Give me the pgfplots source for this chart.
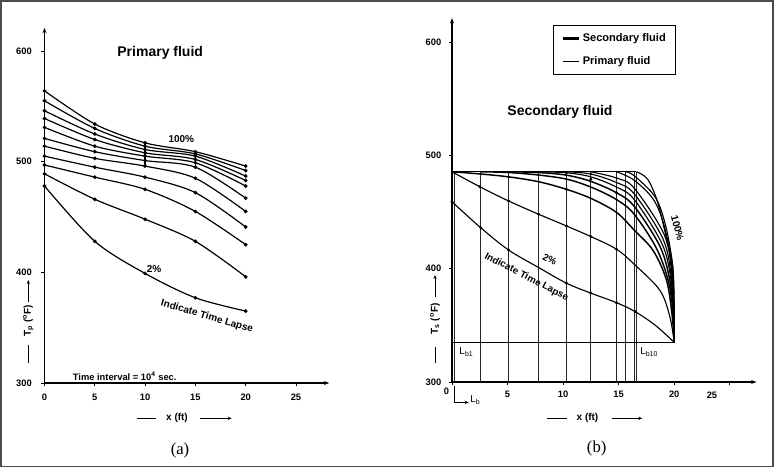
\documentclass[border=0pt]{standalone}
\usepackage{pgfplots}
\pgfplotsset{compat=1.18}
\usetikzlibrary{arrows.meta}
\usepackage{fontspec}
\setmainfont{Liberation Sans}
\newfontfamily\capfont{Liberation Serif}
\begin{document}
\begin{tikzpicture}
\path[use as bounding box] (0,0) rectangle (582pt,351pt);
\draw[line width=1.2pt, black!70] (0.6pt,1.0pt) rectangle (579.8pt,350.2pt);
\pgfplotsset{
  panel/.style={
    anchor=south west, axis lines=left, enlargelimits=false, clip=false,
    axis line style={line width=0.9pt, -{Stealth[length=4pt,width=3pt]}},
    tick align=outside, major tick length=2.5pt,
    tick style={line width=0.6pt, black},
    ticklabel style={font=\bfseries\fontsize{7}{8}\selectfont},
    /pgf/number format/assume math mode=true,
    ytick={300,400,500,600},
  },
  acurve/.style={black, line width=0.9pt, smooth, mark=*, mark size=0.9pt},
  bcurve/.style={black, line width=0.85pt, smooth, tension=0.55},
  vline/.style={black!85, line width=0.6pt},
}
% ---------------- panel (a) ----------------
\begin{axis}[panel,
  at={(33.375pt,63.75pt)},
  x=7.545pt, y=0.830pt,
  xmin=0, xmax=28.3, ymin=300, ymax=620.8,
  xtick={0,5,10,15,20,25},
  yticklabel style={xshift=-3.5pt},
  xticklabel style={yshift=-2pt},
]
\addplot[acurve] coordinates {(0,564)(5,534)(10,517)(15,509)(20,496)};
\addplot[acurve] coordinates {(0,555)(5,530)(10,514)(15,507)(20,492)};
\addplot[acurve] coordinates {(0,546)(5,525)(10,511)(15,505)(20,487)};
\addplot[acurve] coordinates {(0,539)(5,520)(10,508)(15,502)(20,483)};
\addplot[acurve] coordinates {(0,531)(5,514)(10,505)(15,499)(20,478)};
\addplot[acurve] coordinates {(0,521)(5,509)(10,501)(15,495)(20,467)};
\addplot[acurve] coordinates {(0,514)(5,503)(10,496)(15,485)(20,455)};
\addplot[acurve] coordinates {(0,505)(5,495)(10,486)(15,472)(20,441)};
\addplot[acurve] coordinates {(0,497)(5,486)(10,475)(15,455)(20,425)};
\addplot[acurve] coordinates {(0,489)(5,466)(10,448)(15,428)(20,396)};
\addplot[acurve] coordinates {(0,478)(5,428)(10,399)(15,377)(20,365)};
\addplot[black, line width=1pt] coordinates {(10,518)(10,496)};
\addplot[black, line width=1pt] coordinates {(15,510)(15,495)};
\node[font=\bfseries\fontsize{10.5}{12}\selectfont] at (axis cs:11.5,598.5) {Primary fluid};
\node[font=\bfseries\fontsize{7.5}{9}\selectfont] at (axis cs:13.6,520.5) {100\%};
\node[font=\bfseries\fontsize{7.5}{9}\selectfont] at (axis cs:10.9,403) {2\%};
\node[font=\bfseries\fontsize{7.5}{9}\selectfont, rotate=-16.4] at (axis cs:16.15,360) {Indicate Time Lapse};
\node[font=\bfseries\fontsize{7}{8}\selectfont, anchor=west, inner sep=0pt] at (axis cs:2.8,306) {Time interval = 10\textsuperscript{4} sec.};
\end{axis}
% ---------------- panel (b) ----------------
\begin{axis}[panel,
  at={(339pt,64.5pt)},
  x=8.333pt, y=0.850pt,
  xmin=0, xmax=27.4, ymin=300, ymax=621,
  xtick={0,5,10,15,20,25},
  xticklabels={,5,10,15,20,},
  yticklabel style={xshift=-2pt},
  xticklabel style={yshift=-1pt},
  legend style={at={(axis cs:9.11,615.1)}, anchor=north west, draw=black, line width=0.9pt,
    font=\bfseries\fontsize{8.3}{9.5}\selectfont, inner xsep=5.5pt, inner ysep=4pt, row sep=5.5pt,
    cells={anchor=west}},
  legend image code/.code={\draw[#1] (0pt,0pt) -- (12pt,0pt);},
]
\addlegendimage{black, line width=2.2pt}
\addlegendentry{Secondary fluid}
\addlegendimage{black, line width=0.5pt}
\addlegendentry{Primary fluid}
% grid of L_b lines
\addplot[vline] coordinates {(0.2,300)(0.2,485.5)};
\addplot[vline] coordinates {(2.6,300)(2.6,485.5)};
\addplot[vline] coordinates {(5.1,300)(5.1,485.5)};
\addplot[vline] coordinates {(7.8,300)(7.8,485.5)};
\addplot[vline] coordinates {(10.3,300)(10.3,485.5)};
\addplot[vline] coordinates {(12.5,300)(12.5,485.5)};
\addplot[vline] coordinates {(14.8,300)(14.8,485.5)};
\addplot[vline] coordinates {(15.6,300)(15.6,485.5)};
\addplot[vline] coordinates {(16.4,300)(16.4,485.5)};
\addplot[vline] coordinates {(16.6,300)(16.6,485.5)};
\addplot[black, line width=0.9pt] coordinates {(0,485.5)(16.6,485.5)};
\addplot[black, line width=0.9pt] coordinates {(0,335)(20,335)};
% temperature profiles
\addplot[bcurve] coordinates {(0,459)(2.6,436)(5.1,416.4)(7.8,401)(10.3,387.2)(12.5,378.4)(14.8,370)(16.5,362)(18.3,350)(20,335)};
\addplot[bcurve] coordinates {(0,485.5)(2.5,472.3)(5.1,459.7)(7.8,448)(10.3,437.7)(12.5,428.3)(14.8,417.2)(16.5,403)(18.7,381)(19.6,358)(20,335)};
\addplot[bcurve, line width=1.1pt] coordinates {(0,485.5)(2.6,483.5)(5.1,481)(7.8,476.7)(10.3,470)(12.5,462)(14.8,449.7)(16.4,434)(18.1,416)(19.3,390)(19.8,360)(20,335)};
\addplot[bcurve, line width=1.1pt] coordinates {(2.6,485.5)(5.1,484.8)(7.8,482.6)(10.3,479)(12.5,472)(14.8,461)(16.4,448)(18.4,418)(19.5,388)(19.9,360)(20,335)};
\addplot[bcurve, line width=1.1pt] coordinates {(5.1,485.5)(7.8,484.8)(10.3,482.5)(12.5,477)(14.8,467)(16.4,455)(18.7,420)(19.6,390)(19.9,362)(20,335)};
\addplot[bcurve] coordinates {(7.8,485.5)(10.3,484.6)(12.5,481)(14.8,472)(16.4,461)(18.9,422)(19.7,391)(19.93,362)(20,335)};
\addplot[bcurve] coordinates {(10.3,485.5)(12.5,483.5)(14.8,476)(16.4,466)(19.0,426)(19.75,392)(19.95,362)(20,335)};
\addplot[bcurve] coordinates {(12.5,485.5)(14.8,480)(16.4,471)(19.1,430)(19.8,394)(19.96,362)(20,335)};
\addplot[bcurve] coordinates {(14.8,485.5)(16.4,478)(18.2,460)(19.2,434)(19.83,398)(19.97,362)(20,335)};
\addplot[bcurve] coordinates {(15.6,485.5)(16.4,482)(18.3,463)(19.25,437)(19.86,402)(19.98,364)(20,335)};
\addplot[bcurve] coordinates {(16.6,485.5)(17.6,479)(18.5,459)(19.3,427)(19.85,404)(20,370)(20,335)};
% dots at grid intersections
\addplot[only marks, mark=*, mark size=0.9pt] coordinates {
 (0,459)(2.6,436)(5.1,416.4)(10.3,387.2)(12.5,378.4)(14.8,370)(16.5,362)
 (2.5,472.3)(5.1,459.7)(7.8,448)(10.3,437.7)(12.5,428.3)(14.8,417.2)
 (5.1,481)(10.3,470)(12.5,479)(14.8,467)(10.3,484.6)(12.5,483.5)};
\node[font=\bfseries\fontsize{10.5}{12}\selectfont] at (axis cs:9.72,538) {Secondary fluid};
\node[font=\bfseries\fontsize{7.3}{9}\selectfont, rotate=-27.4, inner sep=0.5pt] at (axis cs:6.7,392.5) {Indicate Time Lapse};
\node[font=\bfseries\fontsize{7.3}{9}\selectfont, rotate=-27, inner sep=0.5pt] at (axis cs:8.8,408) {2\%};
\node[font=\bfseries\fontsize{7.5}{9}\selectfont, rotate=-75] at (axis cs:20.3,435.7) {100\%};
\node[font=\fontsize{7.5}{9}\selectfont] at (axis cs:1.3,326.7) {L\textsubscript{b1}};
\node[font=\fontsize{7.5}{9}\selectfont] at (axis cs:17.75,326.7) {L\textsubscript{b10}};
\node[font=\bfseries\fontsize{7}{8}\selectfont] at (axis cs:-0.5,291.5) {0};
\node[font=\bfseries\fontsize{7}{8}\selectfont] at (axis cs:23.4,288) {25};
\draw[black, line width=0.7pt, -{Stealth[length=3pt,width=2.5pt]}] (axis cs:0.18,296.5) -- (axis cs:0.18,282) -- (axis cs:1.5,282);
\node[font=\fontsize{7.5}{9}\selectfont] at (axis cs:2.1,284) {L\textsubscript{b}};
\end{axis}
% ---------------- axis titles (drawn as in the scan) ----------------
\begin{scope}[line width=0.7pt]
% (a) y label
\draw ({28.3*0.75pt},{(468-363.3)*0.75pt}) -- ({28.3*0.75pt},{(468-345)*0.75pt});
\node[rotate=90, font=\bfseries\fontsize{7.5}{9}\selectfont] at ({28.3*0.75pt},{(468-321)*0.75pt}) {T\textsubscript{p} (\textsuperscript{o}F)};
\draw[-{Stealth[length=3pt,width=2.5pt]}] ({28.3*0.75pt},{(468-301.7)*0.75pt}) -- ({28.3*0.75pt},{(468-280)*0.75pt});
% (a) x label
\draw ({136.7*0.75pt},{(468-418.3)*0.75pt}) -- ({155.7*0.75pt},{(468-418.3)*0.75pt});
\node[font=\bfseries\fontsize{7.5}{9}\selectfont] at ({177*0.75pt},{(468-418.3)*0.75pt}) {x (ft)};
\draw[-{Stealth[length=3pt,width=2.5pt]}] ({200*0.75pt},{(468-418.3)*0.75pt}) -- ({231.7*0.75pt},{(468-418.3)*0.75pt});
% (b) y label
\draw ({435*0.75pt},{(468-363.3)*0.75pt}) -- ({435*0.75pt},{(468-346.7)*0.75pt});
\node[rotate=90, font=\bfseries\fontsize{7.5}{9}\selectfont] at ({435*0.75pt},{(468-319)*0.75pt}) {T\textsubscript{s} (\textsuperscript{o}F)};
\draw[-{Stealth[length=3pt,width=2.5pt]}] ({435*0.75pt},{(468-296.7)*0.75pt}) -- ({435*0.75pt},{(468-275)*0.75pt});
% (b) x label
\draw ({546.7*0.75pt},{(468-418.3)*0.75pt}) -- ({566.7*0.75pt},{(468-418.3)*0.75pt});
\node[font=\bfseries\fontsize{7.5}{9}\selectfont] at ({587.5*0.75pt},{(468-418.3)*0.75pt}) {x (ft)};
\draw[-{Stealth[length=3pt,width=2.5pt]}] ({611.7*0.75pt},{(468-418.3)*0.75pt}) -- ({642.3*0.75pt},{(468-418.3)*0.75pt});
\end{scope}
% captions
\node[font=\capfont\fontsize{12.5}{14}\selectfont] at ({180*0.75pt},{(468-450)*0.75pt}) {(a)};
\node[font=\capfont\fontsize{12.5}{14}\selectfont] at ({596.7*0.75pt},{(468-448.3)*0.75pt}) {(b)};
\end{tikzpicture}
\end{document}
